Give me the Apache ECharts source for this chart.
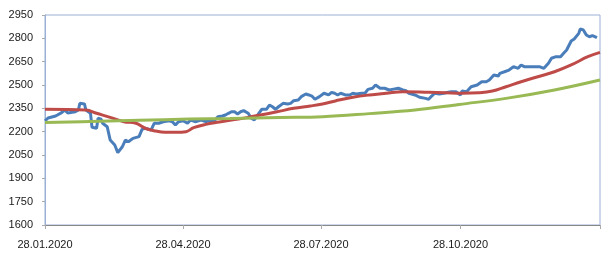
<!DOCTYPE html>
<html>
<head>
<meta charset="utf-8">
<script src="https://cdn.jsdelivr.net/npm/echarts@6/dist/echarts.min.js"></script>
<style>
html,body{margin:0;padding:0;background:#fff;}
#chart{width:602px;height:253px;}
</style>
</head>
<body>
<div id="chart"></div>
<script>
// Blue series (daily price)
var blueDates = [
  '2020-01-28','2020-01-30',
  '2020-02-04','2020-02-08','2020-02-10','2020-02-12','2020-02-17','2020-02-19','2020-02-20','2020-02-23','2020-02-24','2020-02-27','2020-02-28',
  '2020-03-02','2020-03-03','2020-03-05','2020-03-06','2020-03-09','2020-03-11','2020-03-14','2020-03-16','2020-03-19','2020-03-21','2020-03-23','2020-03-26','2020-03-30',
  '2020-04-01','2020-04-03','2020-04-07','2020-04-09','2020-04-12','2020-04-15','2020-04-19','2020-04-21','2020-04-23','2020-04-25','2020-04-28',
  '2020-05-01','2020-05-03','2020-05-06','2020-05-10','2020-05-13','2020-05-15','2020-05-18','2020-05-21','2020-05-24','2020-05-26','2020-05-28','2020-05-30',
  '2020-06-01','2020-06-03','2020-06-05','2020-06-07','2020-06-10','2020-06-12','2020-06-14','2020-06-17','2020-06-19','2020-06-22','2020-06-24','2020-06-26','2020-06-28','2020-06-30',
  '2020-07-03','2020-07-06','2020-07-08','2020-07-10','2020-07-13','2020-07-15','2020-07-18','2020-07-20','2020-07-22','2020-07-24','2020-07-27','2020-07-30',
  '2020-08-02','2020-08-04','2020-08-06','2020-08-08','2020-08-10','2020-08-13','2020-08-16','2020-08-18','2020-08-20','2020-08-24','2020-08-26','2020-08-28','2020-08-31',
  '2020-09-02','2020-09-05','2020-09-08','2020-09-11','2020-09-13','2020-09-17','2020-09-20','2020-09-22','2020-09-24','2020-09-28',
  '2020-10-01','2020-10-05','2020-10-07','2020-10-09','2020-10-11','2020-10-14','2020-10-17','2020-10-20','2020-10-22','2020-10-25','2020-10-28','2020-10-29',
  '2020-11-01','2020-11-04','2020-11-08','2020-11-11','2020-11-14','2020-11-16','2020-11-19','2020-11-22','2020-11-23','2020-11-26','2020-11-29',
  '2020-12-02','2020-12-05','2020-12-07','2020-12-09','2020-12-13','2020-12-16','2020-12-19','2020-12-22','2020-12-25','2020-12-27','2020-12-30',
  '2021-01-02','2021-01-04','2021-01-06','2021-01-07','2021-01-09','2021-01-11','2021-01-14','2021-01-15','2021-01-17','2021-01-19','2021-01-21','2021-01-23','2021-01-26'
];
var blueValues = [
  2270,2288,
  2301,2322,2339,2320,2328,2339,2382,2378,2339,2318,2228,
  2222,2286,2280,2254,2232,2146,2114,2065,2103,2146,2135,2157,2168,
  2215,2222,2211,2254,2254,2264,2270,2264,2243,2264,2270,
  2254,2275,2264,2275,2264,2270,2264,2296,2301,2307,2318,2328,
  2328,2314,2328,2335,2318,2286,2275,2318,2344,2344,2371,2360,2344,2360,
  2382,2378,2382,2399,2403,2425,2442,2436,2429,2408,2425,2447,
  2436,2453,2447,2436,2447,2436,2436,2447,2442,2447,2447,2472,2479,
  2500,2479,2479,2468,2472,2479,2468,2463,2447,2436,
  2421,2414,2408,2429,2447,2442,2447,2453,2457,2457,2436,2461,
  2457,2489,2500,2521,2521,2532,2564,2558,2575,2585,2596,
  2618,2607,2629,2618,2618,2618,2618,2607,2640,2672,2682,
  2682,2704,2725,2736,2783,2796,2832,2860,2854,2821,2810,2817,2804
];
// Red series (shorter moving average)
var redDates = ['2020-01-28','2020-02-24','2020-03-02','2020-03-11','2020-03-20','2020-03-28','2020-04-03','2020-04-10','2020-04-16','2020-04-23','2020-04-30','2020-05-05','2020-05-13','2020-05-22','2020-05-30','2020-06-10','2020-06-18','2020-06-29','2020-07-10','2020-07-21','2020-07-29','2020-08-07','2020-08-18','2020-08-29','2020-09-09','2020-09-20','2020-10-07','2020-10-18','2020-10-29','2020-11-09','2020-11-18','2020-11-27','2020-12-07','2020-12-18','2020-12-29','2021-01-09','2021-01-20','2021-01-28'];
var redValues = [2344,2339,2318,2292,2264,2254,2222,2204,2196,2196,2200,2226,2247,2262,2275,2292,2307,2328,2350,2365,2378,2399,2421,2436,2447,2457,2453,2450,2447,2450,2461,2489,2521,2553,2585,2629,2682,2710];
// Green series (longer moving average)
var greenDates = ['2020-01-28','2020-03-04','2020-03-30','2020-05-02','2020-05-29','2020-07-01','2020-07-29','2020-08-29','2020-09-28','2020-10-27','2020-11-27','2020-12-29','2021-01-28'];
var greenValues = [2259,2267,2273,2281,2285,2291,2296,2316,2339,2375,2414,2468,2532];
// Axis
var xLabelDates = ['2020-01-28','2020-04-28','2020-07-28','2020-10-28'];
var xTickDates = ['2020-01-28','2020-04-28','2020-07-28','2020-10-28','2021-01-28'];
var xMin = '2020-01-28', xMax = '2021-01-28';
var yMin = 1600, yMax = 2950, yStep = 150;

function ts(s){ var p = s.split('-'); return Date.UTC(+p[0], +p[1]-1, +p[2]); }
function pairs(d, v){ return d.map(function(x,i){ return [ts(x), v[i]]; }); }
function pad(n){ return (n<10?'0':'')+n; }

var FONT = 'Liberation Sans, Arial, sans-serif';
var chart = echarts.init(document.getElementById('chart'), null, {renderer:'canvas'});
chart.setOption({
  animation:false,
  grid:{left:45, right:2, top:15, bottom:28, show:true, borderColor:'#9AB0D5', borderWidth:1},
  xAxis:{
    type:'value', min:ts(xMin), max:ts(xMax),
    axisLine:{show:true, lineStyle:{color:'#888888', width:1}},
    axisTick:{show:true, length:4, customValues:xTickDates.map(ts), lineStyle:{color:'#aaaaaa'}},
    axisLabel:{
      customValues:xLabelDates.map(ts), margin:14, fontSize:11, fontFamily:FONT, color:'#1a1a1a',
      formatter:function(v){ var d = new Date(v); return pad(d.getUTCDate())+'.'+pad(d.getUTCMonth()+1)+'.'+d.getUTCFullYear(); }
    },
    splitLine:{show:false}
  },
  yAxis:{
    type:'value', min:yMin, max:yMax, interval:yStep,
    axisLine:{show:true, lineStyle:{color:'#9AB0D5', width:1}},
    axisTick:{show:true, length:3, lineStyle:{color:'#aaaaaa'}},
    axisLabel:{margin:12, fontSize:11, fontFamily:FONT, color:'#1a1a1a', formatter:function(v){ return String(v); }},
    splitLine:{show:false}
  },
  series:[
    {type:'line', data:pairs(blueDates, blueValues), showSymbol:false, lineStyle:{color:'#4A7EBB', width:3}, itemStyle:{color:'#4A7EBB'}},
    {type:'line', data:pairs(redDates, redValues), smooth:0.4, showSymbol:false, lineStyle:{color:'#BE4B48', width:3}, itemStyle:{color:'#BE4B48'}},
    {type:'line', data:pairs(greenDates, greenValues), smooth:0.4, showSymbol:false, lineStyle:{color:'#98B954', width:3}, itemStyle:{color:'#98B954'}}
  ]
});
</script>
</body>
</html>
